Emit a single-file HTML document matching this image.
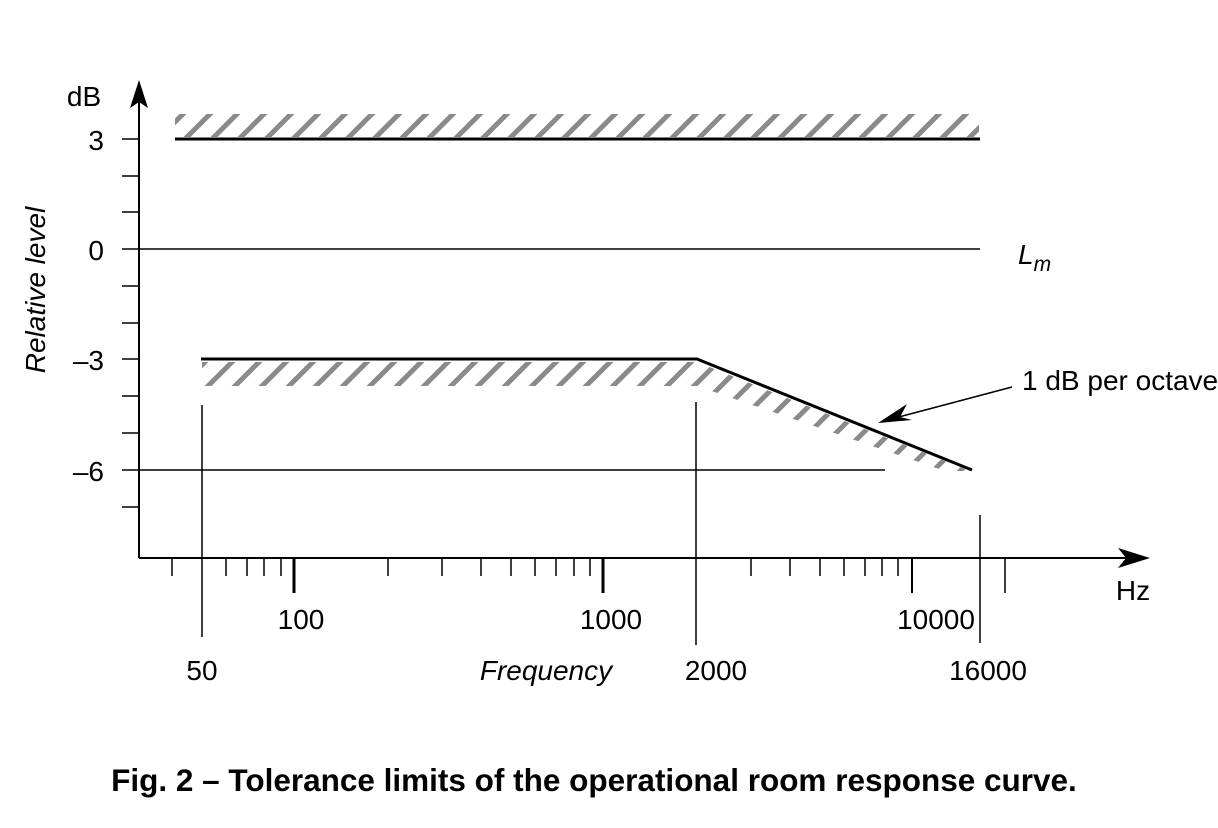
<!DOCTYPE html>
<html><head><meta charset="utf-8"><style>
html,body{margin:0;padding:0;background:#fff;}
svg{display:block;}
text{font-family:"Liberation Sans",sans-serif;fill:#000;}
</style></head><body>
<svg width="1218" height="828" viewBox="0 0 1218 828" xmlns="http://www.w3.org/2000/svg">
<defs>
<pattern id="h" patternUnits="userSpaceOnUse" width="27" height="27">
<line x1="-3" y1="30" x2="30" y2="-3" stroke="#8a8a8a" stroke-width="5"/>
<line x1="-30" y1="30" x2="3" y2="-3" stroke="#8a8a8a" stroke-width="5"/>
<line x1="24" y1="30" x2="57" y2="-3" stroke="#8a8a8a" stroke-width="5"/>
</pattern>
</defs>
<rect x="175" y="114" width="804" height="23" fill="url(#h)"/>
<polygon points="202,362 697,362 970,471 945,471 697,386 202,386" fill="url(#h)"/>
<g stroke="#000" fill="none">
<line x1="139" y1="92" x2="139" y2="558" stroke-width="2"/>
<line x1="139" y1="558" x2="1138" y2="558" stroke-width="2"/>
<line x1="122" y1="139" x2="139" y2="139" stroke-width="1.5"/>
<line x1="122" y1="176" x2="139" y2="176" stroke-width="1.5"/>
<line x1="122" y1="212" x2="139" y2="212" stroke-width="1.5"/>
<line x1="122" y1="249" x2="139" y2="249" stroke-width="1.5"/>
<line x1="122" y1="286" x2="139" y2="286" stroke-width="1.5"/>
<line x1="122" y1="323" x2="139" y2="323" stroke-width="1.5"/>
<line x1="122" y1="359" x2="139" y2="359" stroke-width="1.5"/>
<line x1="122" y1="396" x2="139" y2="396" stroke-width="1.5"/>
<line x1="122" y1="433" x2="139" y2="433" stroke-width="1.5"/>
<line x1="122" y1="470" x2="139" y2="470" stroke-width="1.5"/>
<line x1="122" y1="507" x2="139" y2="507" stroke-width="1.5"/>
<g stroke-width="1.5">
<line x1="172" y1="558" x2="172" y2="576"/>
<line x1="226" y1="558" x2="226" y2="576"/>
<line x1="247" y1="558" x2="247" y2="576"/>
<line x1="264" y1="558" x2="264" y2="576"/>
<line x1="281" y1="558" x2="281" y2="576"/>
<line x1="388" y1="558" x2="388" y2="576"/>
<line x1="442" y1="558" x2="442" y2="576"/>
<line x1="481" y1="558" x2="481" y2="576"/>
<line x1="511" y1="558" x2="511" y2="576"/>
<line x1="535" y1="558" x2="535" y2="576"/>
<line x1="556" y1="558" x2="556" y2="576"/>
<line x1="574" y1="558" x2="574" y2="576"/>
<line x1="590" y1="558" x2="590" y2="576"/>
<line x1="751" y1="558" x2="751" y2="576"/>
<line x1="790" y1="558" x2="790" y2="576"/>
<line x1="820" y1="558" x2="820" y2="576"/>
<line x1="844" y1="558" x2="844" y2="576"/>
<line x1="865" y1="558" x2="865" y2="576"/>
<line x1="882" y1="558" x2="882" y2="576"/>
<line x1="898" y1="558" x2="898" y2="576"/>
<line x1="1005" y1="558" x2="1005" y2="593"/>
</g>
<g stroke-width="3">
<line x1="294" y1="558" x2="294" y2="593"/>
<line x1="603" y1="558" x2="603" y2="593"/>
</g>
<line x1="912" y1="558" x2="912" y2="593" stroke-width="2"/>
<line x1="202" y1="405" x2="202" y2="637" stroke-width="1.5"/>
<line x1="696" y1="402" x2="696" y2="645" stroke-width="1.5"/>
<line x1="980" y1="515" x2="980" y2="643" stroke-width="1.5"/>
<line x1="175" y1="139" x2="980" y2="139" stroke-width="3"/>
<line x1="139" y1="249" x2="980" y2="249" stroke-width="1.5"/>
<line x1="139" y1="470" x2="885" y2="470" stroke-width="1.5"/>
<polyline points="201,359 697,359 972,470" stroke-width="3"/>
<line x1="1012" y1="387" x2="895" y2="418" stroke-width="1.5"/>
</g>
<polygon points="139,80 130,108 139,102 148,108" fill="#000"/>
<polygon points="1150,558 1118,548 1126,558 1118,568" fill="#000"/>
<polygon points="878,423 907,404 900,417 912,420" fill="#000"/>
<text x="84" y="106" font-size="28" text-anchor="middle">dB</text>
<text x="104" y="150" font-size="28" text-anchor="end">3</text>
<text x="104" y="260" font-size="28" text-anchor="end">0</text>
<text x="104" y="370" font-size="28" text-anchor="end">–3</text>
<text x="104" y="481" font-size="28" text-anchor="end">–6</text>
<text transform="translate(45,290) rotate(-90)" font-size="28" font-style="italic" text-anchor="middle">Relative level</text>
<text x="1018" y="264" font-size="28" font-style="italic">L<tspan font-size="21" dy="7">m</tspan></text>
<text x="1022" y="390" font-size="28">1 dB per octave</text>
<text x="1133" y="600" font-size="28" text-anchor="middle">Hz</text>
<text x="301" y="629" font-size="28" text-anchor="middle">100</text>
<text x="611" y="629" font-size="28" text-anchor="middle">1000</text>
<text x="936" y="629" font-size="28" text-anchor="middle">10000</text>
<text x="202" y="680" font-size="28" text-anchor="middle">50</text>
<text x="546" y="680" font-size="28" font-style="italic" text-anchor="middle">Frequency</text>
<text x="716" y="680" font-size="28" text-anchor="middle">2000</text>
<text x="988" y="680" font-size="28" text-anchor="middle">16000</text>
<text x="594" y="791" font-size="31.5" font-weight="bold" text-anchor="middle">Fig. 2 – Tolerance limits of the operational room response curve.</text>
</svg>
</body></html>
